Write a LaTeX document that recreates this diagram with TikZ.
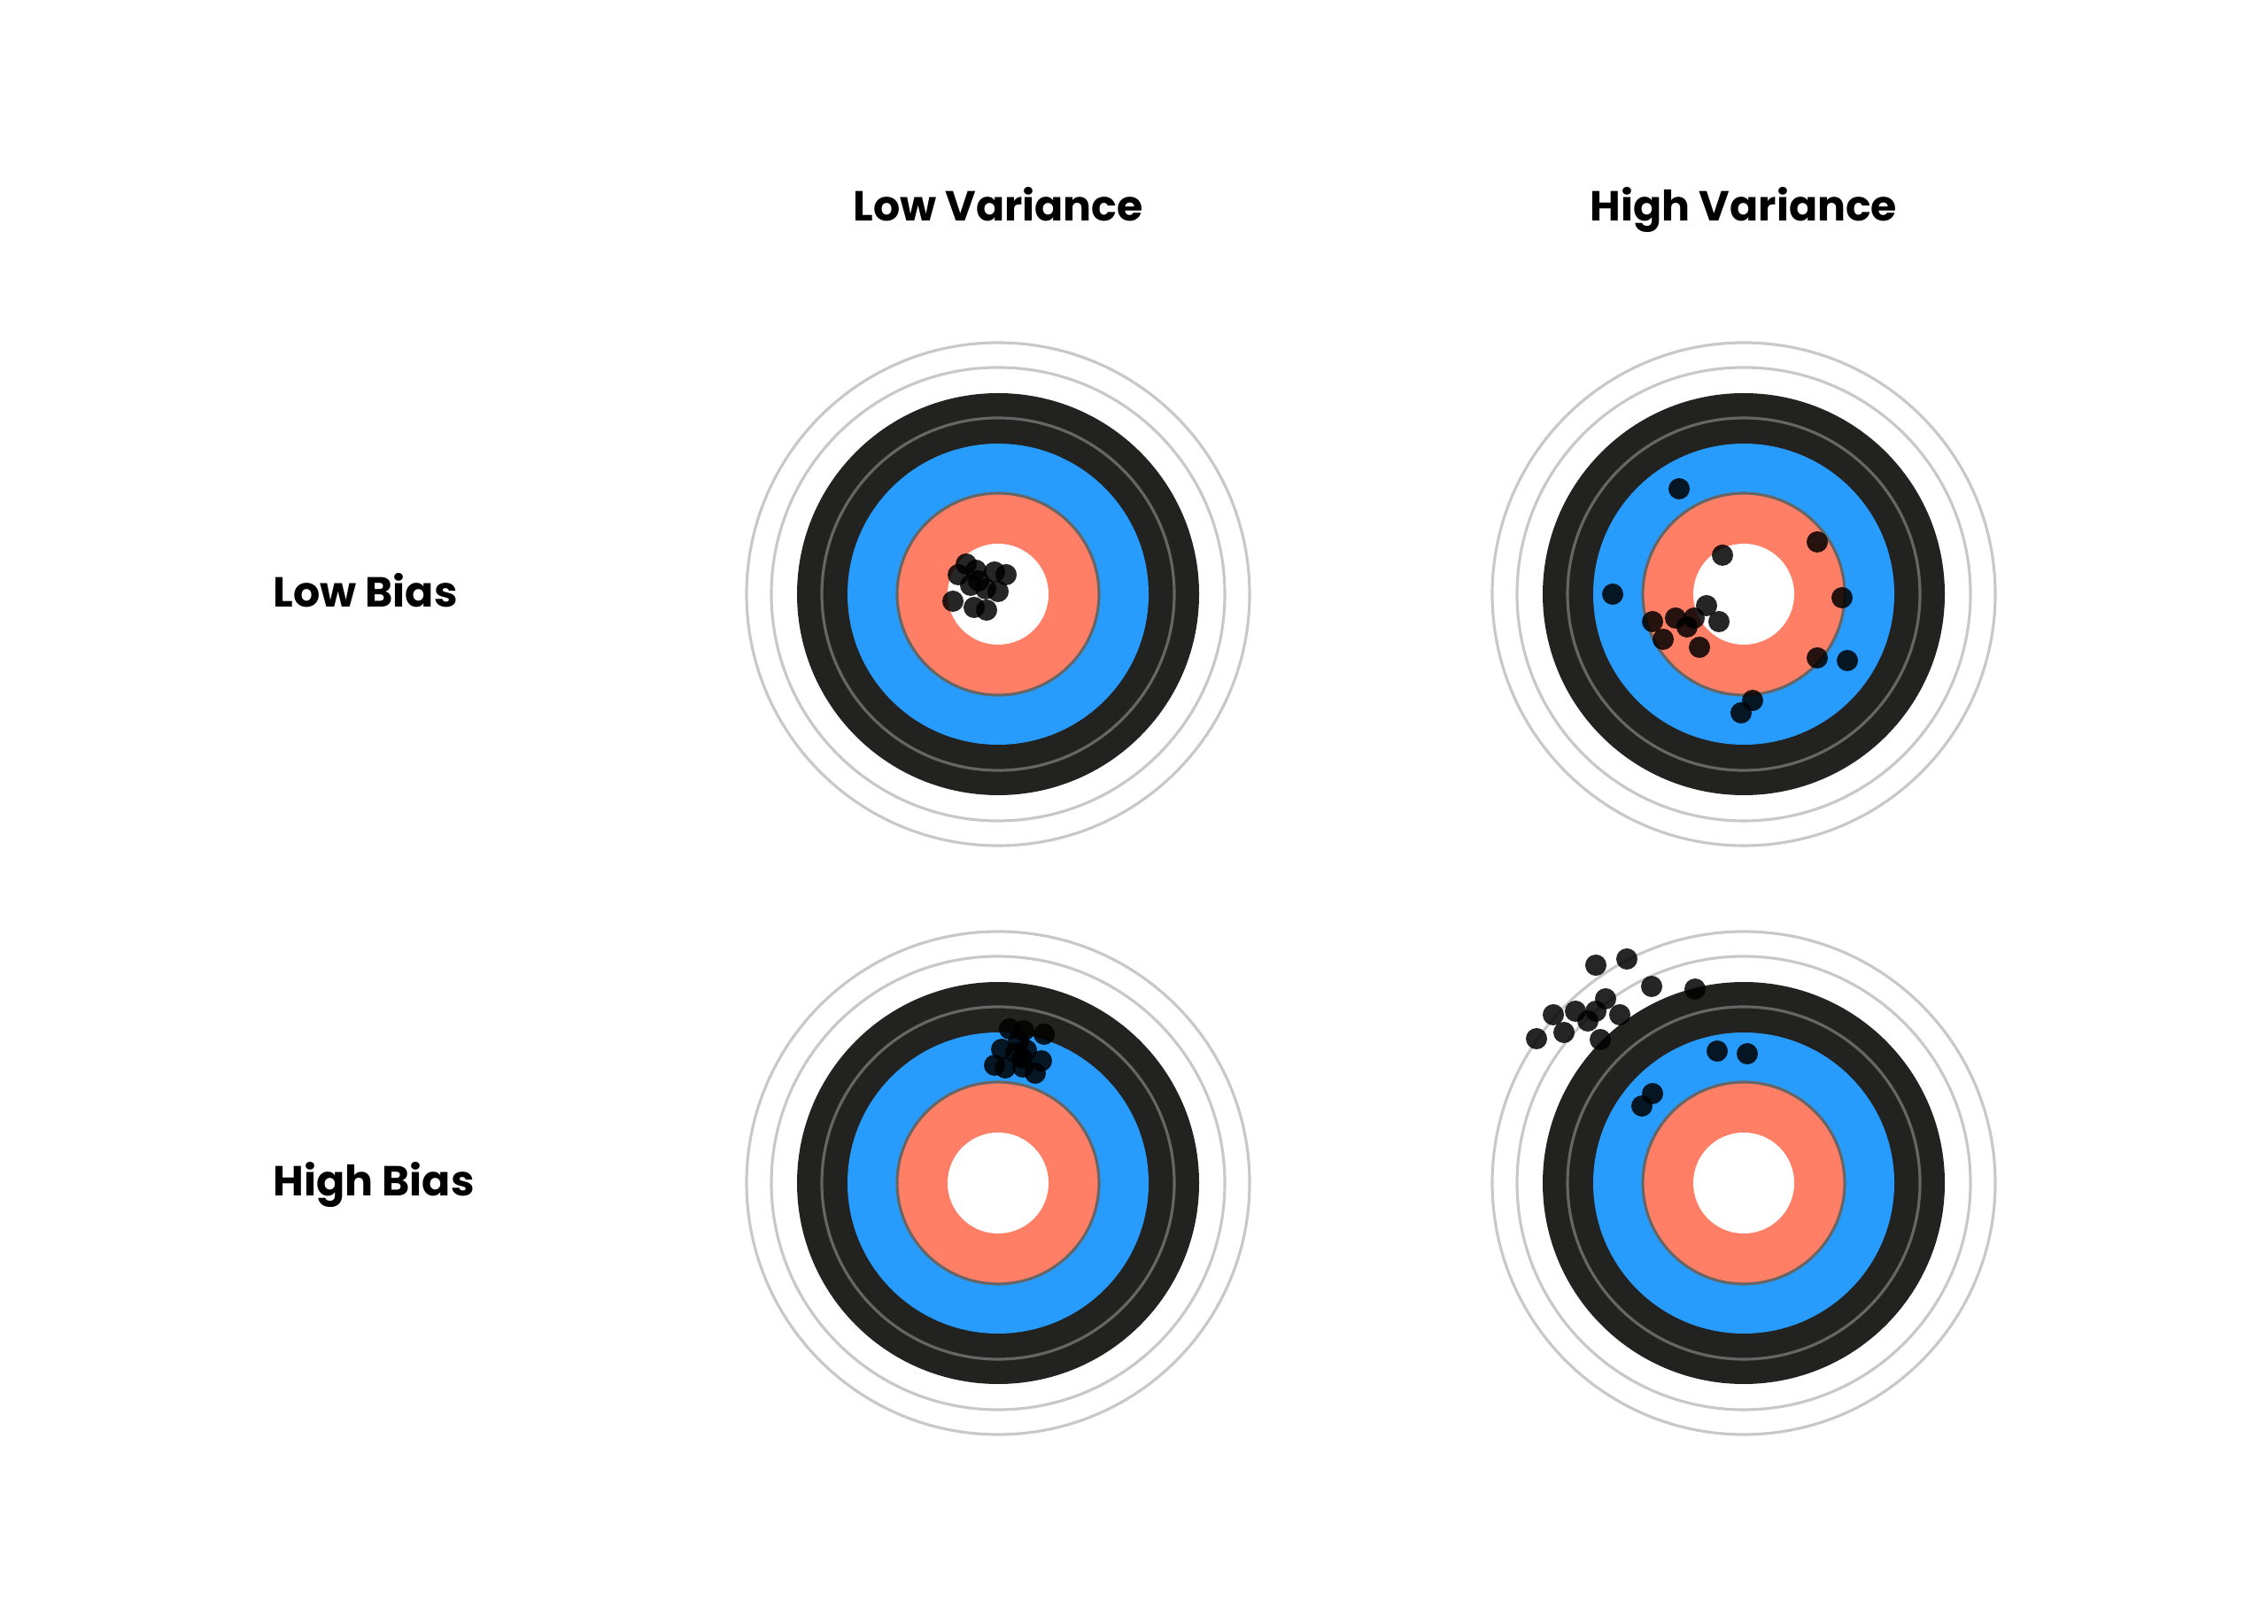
\documentclass[tikz,border=0pt]{standalone}
\usepackage{fontspec}
\setmainfont{Poppins}
\usetikzlibrary{positioning}
\definecolor{ringblack}{RGB}{34,34,33}
\definecolor{ringblue}{RGB}{39,156,253}
\definecolor{ringred}{RGB}{255,126,102}
\definecolor{ringgrey}{RGB}{200,200,200}
\definecolor{linegrey}{RGB}{102,102,102}

\begin{document}
\begin{tikzpicture}[
  every node/.style={font=\fontsize{13.5}{16}\selectfont\bfseries, inner sep=0pt},
  outerring/.style={draw=ringgrey, line width=0.9pt},
  innerline/.style={draw=linegrey, line width=0.9pt},
  hit/.style={fill=black, fill opacity=0.85}
]
\useasboundingbox (0,0) rectangle (25.61,18.33);

% headings
\node[anchor=base] (lowvar) at (11.27, 15.83) {Low Variance};
\node[anchor=base] (highvar) at (19.69, 15.83) {High Variance};
\node[anchor=base west] (lowbias) at (3.08, 11.47) {Low Bias};
\node[anchor=base west] (highbias) at (3.08, 4.82) {High Bias};

% targets
\foreach \cx/\cy in {11.27/11.62, 19.69/11.62, 11.27/4.97, 19.69/4.97} {
  \draw[outerring] (\cx,\cy) circle (2.84);
  \draw[outerring] (\cx,\cy) circle (2.56);
  \fill[ringblack] (\cx,\cy) circle (2.27);
  \draw[innerline] (\cx,\cy) circle (1.99);
  \fill[ringblue] (\cx,\cy) circle (1.70);
  \filldraw[fill=ringred, draw=linegrey, line width=0.9pt] (\cx,\cy) circle (1.14);
  \fill[white] (\cx,\cy) circle (0.57);
}

% low bias, low variance
\begin{scope}[shift={(11.27,11.62)}]
  \foreach \x/\y in {-0.36/0.34, -0.45/0.22, -0.25/0.27, -0.04/0.25, 0.09/0.22,
                     -0.22/0.15, -0.31/0.10, -0.14/0.06, 0.00/0.03, -0.51/-0.08,
                     -0.27/-0.15, -0.13/-0.18}
    \fill[hit] (\x,\y) circle (0.12);
\end{scope}

% low bias, high variance
\begin{scope}[shift={(19.69,11.62)}]
  \foreach \x/\y in {-0.73/1.19, 0.83/0.59, -0.24/0.44, -1.48/0, 1.11/-0.04,
                     -0.42/-0.13, -1.03/-0.31, -0.77/-0.27, -0.56/-0.27, -0.64/-0.37,
                     -0.28/-0.31, -0.91/-0.51, -0.50/-0.60, 0.83/-0.72, 1.17/-0.75,
                     0.10/-1.20, -0.03/-1.34}
    \fill[hit] (\x,\y) circle (0.12);
\end{scope}

% high bias, low variance
\begin{scope}[shift={(11.27,4.97)}]
  \foreach \x/\y in {0.13/1.74, 0.29/1.72, 0.52/1.68, 0.23/1.60, 0.04/1.51,
                     0.32/1.50, 0.20/1.47, 0.49/1.38, 0.27/1.41, -0.04/1.33,
                     0.08/1.30, 0.28/1.31, 0.42/1.24}
    \fill[hit] (\x,\y) circle (0.12);
\end{scope}

% high bias, high variance
\begin{scope}[shift={(19.69,4.97)}]
  \foreach \x/\y in {-1.67/2.46, -1.32/2.53, -1.04/2.22, -0.55/2.19, -1.56/2.08,
                     -2.15/1.90, -1.90/1.94, -1.67/1.94, -1.76/1.83, -1.40/1.90,
                     -2.03/1.70, -2.34/1.63, -1.62/1.62, -0.30/1.49, 0.04/1.46,
                     -1.03/1.01, -1.15/0.87}
    \fill[hit] (\x,\y) circle (0.12);
\end{scope}

\end{tikzpicture}
\end{document}
